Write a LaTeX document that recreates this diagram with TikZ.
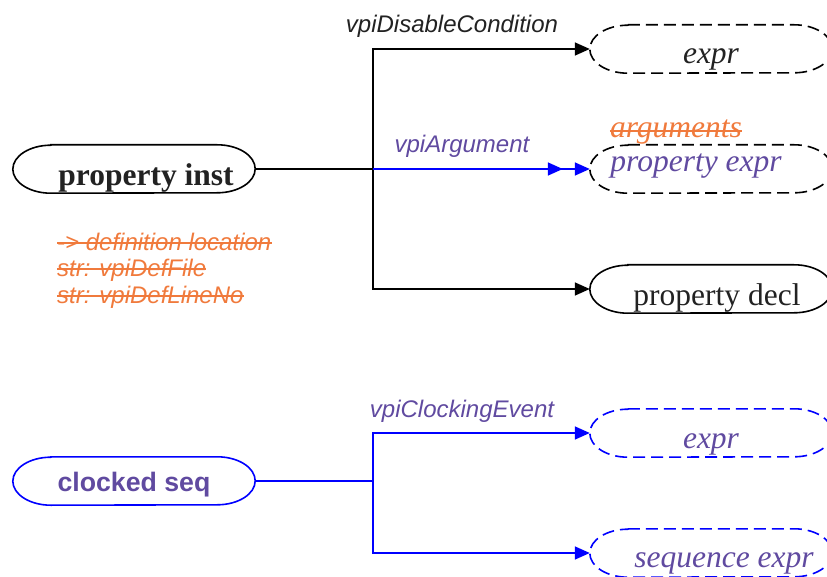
\documentclass[tikz,border=0pt]{standalone}
\usepackage{fontspec}
\setmainfont{Liberation Serif}
\setsansfont{Liberation Sans}
\usetikzlibrary{arrows.meta}
\definecolor{vpurple}{RGB}{96,74,160}
\definecolor{vorange}{RGB}{240,122,60}
\definecolor{vdark}{RGB}{34,34,34}
\tikzset{
  x=1pt, y=-1pt,
  pill/.style={rectangle, minimum width=242pt, minimum height=48pt, inner sep=0pt},
  outline/.style={line width=1.6pt},
  dashedline/.style={outline, dash pattern=on 12pt off 6pt},
  conn/.style={line width=1.6pt},
  tip/.style={-{Triangle[length=15pt,width=13pt]}},
  elabel/.style={font=\sffamily\itshape\fontsize{24}{28}\selectfont, anchor=base},
  otext/.style={font=\sffamily\itshape\fontsize{24}{28}\selectfont, text=vorange, anchor=base west, inner sep=0pt},
  strikeline/.style={draw=vorange, line width=1.6pt},
}
% outline of a pill node with half-elliptic ends
\newcommand{\pillout}[2]{%
  \draw[#2] ([xshift=38pt]#1.north west) -- ([xshift=-38pt]#1.north east)
    arc[start angle=90, end angle=-90, x radius=38pt, y radius=24pt]
    -- ([xshift=38pt]#1.south west)
    arc[start angle=270, end angle=90, x radius=38pt, y radius=24pt] -- cycle;}
\begin{document}
\begin{tikzpicture}
\useasboundingbox (0,0) rectangle (827,577);
\clip (0,0) rectangle (827,577);

% nodes
\node[pill, label={[anchor=base, yshift=-9pt, xshift=12pt, text=vdark, font=\bfseries\fontsize{31.5}{36}\selectfont]center:property inst}] (pinst) at (134,169) {};
\node[pill, label={[anchor=base, yshift=-10pt, text=vdark, font=\itshape\fontsize{31.5}{36}\selectfont]center:expr}] (expr1) at (711,49) {};
\node[pill, label={[anchor=base, yshift=3pt, xshift=-15pt, text=vpurple, font=\itshape\fontsize{31.5}{36}\selectfont]center:property expr}] (pexpr) at (711,169) {};
\node[pill, label={[anchor=base, yshift=-9pt, xshift=6pt, text=vdark, font=\fontsize{31.5}{36}\selectfont]center:property decl}] (pdecl) at (711,289) {};

\node[pill, label={[anchor=base, yshift=-4pt, text=vpurple, font=\sffamily\bfseries\fontsize{26.7}{30}\selectfont]center:clocked seq}] (cseq) at (134,481) {};
\node[pill, label={[anchor=base, yshift=-11pt, text=vpurple, font=\itshape\fontsize{31.5}{36}\selectfont]center:expr}] (expr2) at (711,433) {};
\node[pill, label={[anchor=base, yshift=-10pt, xshift=13pt, text=vpurple, font=\itshape\fontsize{31.5}{36}\selectfont]center:sequence expr}] (sexpr) at (711,553) {};

% node outlines
\pillout{pinst}{outline, draw=black}
\pillout{expr1}{dashedline, draw=black}
\pillout{pexpr}{dashedline, draw=black}
\pillout{pdecl}{outline, draw=black}
\pillout{cseq}{outline, draw=blue}
\pillout{expr2}{dashedline, draw=blue}
\pillout{sexpr}{dashedline, draw=blue}

% orange notes (struck through)
\node[otext] (n1) at (57,251) {-> definition location};
\node[otext] (n2) at (57,277) {str: vpiDefFile};
\node[otext] (n3) at (57,304) {str: vpiDefLineNo};
\node[anchor=base, inner sep=0pt, text=vorange, font=\itshape\fontsize{31.5}{36}\selectfont] (argl) at (676,138) {arguments};
\foreach \n in {n1,n2,n3}
  \draw[strikeline] ([yshift=8pt]\n.base west) -- ([yshift=8pt]\n.base east);
\draw[strikeline] ([yshift=7pt]argl.base west) -- ([yshift=7pt]argl.base east);

% junctions
\coordinate (j1) at (373,169);
\coordinate (j2) at (373,481);

% connectors, property inst
\draw[conn] (pinst.east) -- (j1);
\draw[conn, tip] (j1) |- (expr1.west);
\draw[conn, tip] (j1) |- (pdecl.west);
\draw[conn, blue, tip] (j1) -- (pexpr.west);
\draw[conn, blue, tip, shorten >=27pt] (j1) -- (pexpr.west);

% connectors, clocked seq
\draw[conn, blue] (cseq.east) -- (j2);
\draw[conn, blue, tip] (j2) |- (expr2.west);
\draw[conn, blue, tip] (j2) |- (sexpr.west);

% edge labels
\node[elabel, text=vdark] (l1) at (452,33) {vpiDisableCondition};
\node[elabel, text=vpurple] (l2) at (462,153) {vpiArgument};
\node[elabel, text=vpurple] (l3) at (462,417) {vpiClockingEvent};
\end{tikzpicture}
\end{document}
